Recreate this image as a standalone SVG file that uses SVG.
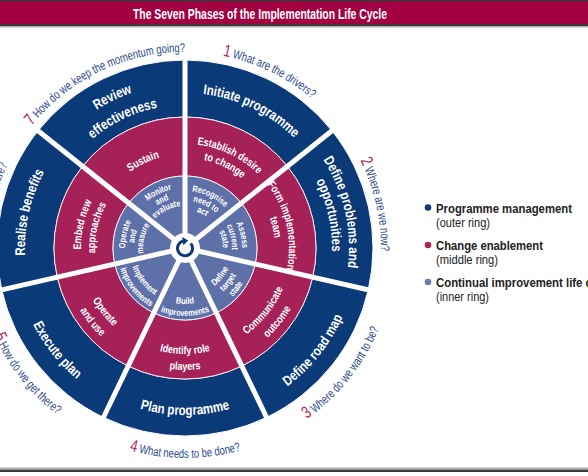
<svg xmlns="http://www.w3.org/2000/svg" width="588" height="476" viewBox="0 0 588 476">
<style>
.o{font-family:'Liberation Sans',Arial,sans-serif;font-weight:bold;font-size:14px;fill:#fff;text-anchor:middle}
.m{font-family:'Liberation Sans',Arial,sans-serif;font-weight:bold;font-size:11px;fill:#fff;text-anchor:middle}
.i{font-family:'Liberation Sans',Arial,sans-serif;font-weight:bold;font-size:9px;fill:#fff;text-anchor:middle}
.q{font-family:'Liberation Sans',Arial,sans-serif;font-size:12.5px;fill:#2c4a8e;text-anchor:middle}
.n{font-size:17px;fill:#b3245a}
.outer{fill:#0a3a78;stroke:#fff;stroke-width:1}
.mid{fill:#a52158;stroke:#f4e6ec;stroke-width:1}
.inn{fill:#5e70a8;stroke:#eef0f8;stroke-width:1}
.sep{stroke:#fff;stroke-width:5;stroke-linecap:butt}
.lg{font-family:'Liberation Sans',Arial,sans-serif;font-size:13px;fill:#222}
.lgb{font-family:'Liberation Sans',Arial,sans-serif;font-size:13.5px;font-weight:bold;fill:#222}
</style>
<defs>
<path id="a38" d="M147.58 241.40 A38 38 0 0 1 222.42 241.40"/>
<path id="a42" d="M143.64 240.71 A42 42 0 0 1 226.36 240.71"/>
<path id="a47" d="M138.71 239.84 A47 47 0 0 1 231.29 239.84"/>
<path id="a51" d="M134.78 239.15 A51 51 0 0 1 235.22 239.15"/>
<path id="a57" d="M128.87 238.10 A57 57 0 0 1 241.13 238.10"/>
<path id="a60" d="M125.91 237.58 A60 60 0 0 1 244.09 237.58"/>
<path id="a90" d="M96.37 232.38 A90 90 0 0 1 273.63 232.38"/>
<path id="a94" d="M92.43 231.68 A94 94 0 0 1 277.57 231.68"/>
<path id="a104" d="M82.58 229.95 A104 104 0 0 1 287.42 229.95"/>
<path id="a143" d="M44.17 223.18 A143 143 0 0 1 325.83 223.18"/>
<path id="a147" d="M40.23 222.48 A147 147 0 0 1 329.77 222.48"/>
<path id="a155" d="M32.36 221.09 A155 155 0 0 1 337.64 221.09"/>
<path id="a160" d="M27.43 220.22 A160 160 0 0 1 342.57 220.22"/>
<path id="a164" d="M23.49 219.53 A164 164 0 0 1 346.51 219.53"/>
<path id="a196" d="M-8.02 213.97 A196 196 0 0 1 378.02 213.97"/>
<path id="b48" d="M137.73 256.33 A48 48 0 0 0 232.27 256.33"/>
<path id="b56" d="M129.85 257.72 A56 56 0 0 0 240.15 257.72"/>
<path id="b58" d="M127.88 258.07 A58 58 0 0 0 242.12 258.07"/>
<path id="b68" d="M118.03 259.80 A68 68 0 0 0 251.97 259.80"/>
<path id="b106" d="M80.61 266.40 A106 106 0 0 0 289.39 266.40"/>
<path id="b122" d="M64.85 269.18 A122 122 0 0 0 305.15 269.18"/>
<path id="b167" d="M20.54 276.99 A167 167 0 0 0 349.46 276.99"/>
<path id="b170" d="M17.58 277.51 A170 170 0 0 0 352.42 277.51"/>
<path id="b172" d="M15.61 277.86 A172 172 0 0 0 354.39 277.86"/>
<path id="b210" d="M-21.81 284.46 A210 210 0 0 0 391.81 284.46"/>
</defs>

<rect width="588" height="476" fill="#fff"/>

<g id="title">
<rect x="0" y="0" width="588" height="26" fill="#a30041"/>
<rect x="0" y="0" width="588" height="1.5" fill="#3a3a3a"/>
<rect x="0" y="24" width="588" height="2.5" fill="#3a3a3a"/>
<rect x="0" y="26.5" width="588" height="1" fill="#bbb"/>
<text x="260" y="18.5" text-anchor="middle" font-family="'Liberation Sans',Arial,sans-serif" font-weight="bold" font-size="14" fill="#fff" textLength="254" lengthAdjust="spacingAndGlyphs">The Seven Phases of the Implementation Life Cycle</text>
</g>

<g id="outer-1-initiate-programme">
<path class="outer" d="M185 60 A188 188 0 0 1 331.98 130.78 L287.42 166.32 A131 131 0 0 0 185 117 Z"/>
<text class="o" transform="rotate(25.71 185 248)"><textPath href="#a155" startOffset="50%" textLength="103" lengthAdjust="spacingAndGlyphs">Initiate programme</textPath></text>
</g>
<g id="outer-2-define-problems">
<path class="outer" d="M331.98 130.78 A188 188 0 0 1 368.28 289.83 L312.71 277.15 A131 131 0 0 0 287.42 166.32 Z"/>
<text class="o" transform="rotate(77.14 185 248)"><textPath href="#a164" startOffset="50%" textLength="113" lengthAdjust="spacingAndGlyphs">Define problems and</textPath></text>
<text class="o" transform="rotate(77.14 185 248)"><textPath href="#a147" startOffset="50%" textLength="73" lengthAdjust="spacingAndGlyphs">opportunities</textPath></text>
</g>
<g id="outer-3-define-road-map">
<path class="outer" d="M368.28 289.83 A188 188 0 0 1 266.57 417.39 L241.84 366.03 A131 131 0 0 0 312.71 277.15 Z"/>
<text class="o" transform="rotate(-51.43 185 248)"><textPath href="#b172" startOffset="50%" textLength="90" lengthAdjust="spacingAndGlyphs">Define road map</textPath></text>
</g>
<g id="outer-4-plan-programme">
<path class="outer" d="M266.57 417.39 A188 188 0 0 1 103.43 417.39 L128.16 366.03 A131 131 0 0 0 241.84 366.03 Z"/>
<text class="o"><textPath href="#b167" startOffset="50%" textLength="91" lengthAdjust="spacingAndGlyphs">Plan programme</textPath></text>
</g>
<g id="outer-5-execute-plan">
<path class="outer" d="M103.43 417.39 A188 188 0 0 1 1.72 289.83 L57.29 277.15 A131 131 0 0 0 128.16 366.03 Z"/>
<text class="o" transform="rotate(51.43 185 248)"><textPath href="#b170" startOffset="50%" textLength="71" lengthAdjust="spacingAndGlyphs">Execute plan</textPath></text>
</g>
<g id="outer-6-realise-benefits">
<path class="outer" d="M1.72 289.83 A188 188 0 0 1 38.02 130.78 L82.58 166.32 A131 131 0 0 0 57.29 277.15 Z"/>
<text class="o" transform="rotate(-77.14 185 248)"><textPath href="#a160" startOffset="50%" textLength="87" lengthAdjust="spacingAndGlyphs">Realise benefits</textPath></text>
</g>
<g id="outer-7-review-effectiveness">
<path class="outer" d="M38.02 130.78 A188 188 0 0 1 185 60 L185 117 A131 131 0 0 0 82.58 166.32 Z"/>
<text class="o" transform="rotate(-25.71 185 248)"><textPath href="#a164" startOffset="50%" textLength="40" lengthAdjust="spacingAndGlyphs">Review</textPath></text>
<text class="o" transform="rotate(-25.71 185 248)"><textPath href="#a143" startOffset="50%" textLength="73" lengthAdjust="spacingAndGlyphs">effectiveness</textPath></text>
</g>

<g id="middle-1-establish-desire">
<path class="mid" d="M185 117 A131 131 0 0 1 287.42 166.32 L241.29 203.11 A72 72 0 0 0 185 176 Z"/>
<text class="m" transform="rotate(25.71 185 248)"><textPath href="#a104" startOffset="50%" textLength="69" lengthAdjust="spacingAndGlyphs">Establish desire</textPath></text>
<text class="m" transform="rotate(25.71 185 248)"><textPath href="#a90" startOffset="50%" textLength="43" lengthAdjust="spacingAndGlyphs">to change</textPath></text>
</g>
<g id="middle-2-form-team">
<path class="mid" d="M287.42 166.32 A131 131 0 0 1 312.71 277.15 L255.19 264.02 A72 72 0 0 0 241.29 203.11 Z"/>
<text class="m" transform="rotate(77.14 185 248)"><textPath href="#a104" startOffset="50%" textLength="90" lengthAdjust="spacingAndGlyphs">Form implementation</textPath></text>
<text class="m" transform="rotate(77.14 185 248)"><textPath href="#a90" startOffset="50%" textLength="21" lengthAdjust="spacingAndGlyphs">team</textPath></text>
</g>
<g id="middle-3-communicate-outcome">
<path class="mid" d="M312.71 277.15 A131 131 0 0 1 241.84 366.03 L216.24 312.87 A72 72 0 0 0 255.19 264.02 Z"/>
<text class="m" transform="rotate(-51.43 185 248)"><textPath href="#b106" startOffset="50%" textLength="60" lengthAdjust="spacingAndGlyphs">Communicate</textPath></text>
<text class="m" transform="rotate(-51.43 185 248)"><textPath href="#b122" startOffset="50%" textLength="38" lengthAdjust="spacingAndGlyphs">outcome</textPath></text>
</g>
<g id="middle-4-identify-role-players">
<path class="mid" d="M241.84 366.03 A131 131 0 0 1 128.16 366.03 L153.76 312.87 A72 72 0 0 0 216.24 312.87 Z"/>
<text class="m"><textPath href="#b106" startOffset="50%" textLength="51" lengthAdjust="spacingAndGlyphs">Identify role</textPath></text>
<text class="m"><textPath href="#b122" startOffset="50%" textLength="32" lengthAdjust="spacingAndGlyphs">players</textPath></text>
</g>
<g id="middle-5-operate-and-use">
<path class="mid" d="M128.16 366.03 A131 131 0 0 1 57.29 277.15 L114.81 264.02 A72 72 0 0 0 153.76 312.87 Z"/>
<text class="m" transform="rotate(51.43 185 248)"><textPath href="#b106" startOffset="50%" textLength="34" lengthAdjust="spacingAndGlyphs">Operate</textPath></text>
<text class="m" transform="rotate(51.43 185 248)"><textPath href="#b122" startOffset="50%" textLength="34" lengthAdjust="spacingAndGlyphs">and use</textPath></text>
</g>
<g id="middle-6-embed-new-approaches">
<path class="mid" d="M57.29 277.15 A131 131 0 0 1 82.58 166.32 L128.71 203.11 A72 72 0 0 0 114.81 264.02 Z"/>
<text class="m" transform="rotate(-77.14 185 248)"><textPath href="#a104" startOffset="50%" textLength="50" lengthAdjust="spacingAndGlyphs">Embed new</textPath></text>
<text class="m" transform="rotate(-77.14 185 248)"><textPath href="#a90" startOffset="50%" textLength="51" lengthAdjust="spacingAndGlyphs">approaches</textPath></text>
</g>
<g id="middle-7-sustain">
<path class="mid" d="M82.58 166.32 A131 131 0 0 1 185 117 L185 176 A72 72 0 0 0 128.71 203.11 Z"/>
<text class="m" transform="rotate(-25.71 185 248)"><textPath href="#a94" startOffset="50%" textLength="33" lengthAdjust="spacingAndGlyphs">Sustain</textPath></text>
</g>

<g id="inner-1-recognise">
<path class="inn" d="M185 248 L185 176 A72 72 0 0 1 241.29 203.11 Z"/>
<text class="i" transform="rotate(25.71 185 248)"><textPath href="#a57" startOffset="50%" textLength="37" lengthAdjust="spacingAndGlyphs">Recognise</textPath></text>
<text class="i" transform="rotate(25.71 185 248)"><textPath href="#a47" startOffset="50%" textLength="26" lengthAdjust="spacingAndGlyphs">need to</textPath></text>
<text class="i" transform="rotate(25.71 185 248)"><textPath href="#a38" startOffset="50%" textLength="11" lengthAdjust="spacingAndGlyphs">act</textPath></text>
</g>
<g id="inner-2-assess">
<path class="inn" d="M185 248 L241.29 203.11 A72 72 0 0 1 255.19 264.02 Z"/>
<text class="i" transform="rotate(77.14 185 248)"><textPath href="#a57" startOffset="50%" textLength="26" lengthAdjust="spacingAndGlyphs">Assess</textPath></text>
<text class="i" transform="rotate(77.14 185 248)"><textPath href="#a47" startOffset="50%" textLength="25" lengthAdjust="spacingAndGlyphs">current</textPath></text>
<text class="i" transform="rotate(77.14 185 248)"><textPath href="#a38" startOffset="50%" textLength="17" lengthAdjust="spacingAndGlyphs">state</textPath></text>
</g>
<g id="inner-3-define-target">
<path class="inn" d="M185 248 L255.19 264.02 A72 72 0 0 1 216.24 312.87 Z"/>
<text class="i" transform="rotate(-51.43 185 248)"><textPath href="#b48" startOffset="50%" textLength="23" lengthAdjust="spacingAndGlyphs">Define</textPath></text>
<text class="i" transform="rotate(-51.43 185 248)"><textPath href="#b58" startOffset="50%" textLength="21" lengthAdjust="spacingAndGlyphs">target</textPath></text>
<text class="i" transform="rotate(-51.43 185 248)"><textPath href="#b68" startOffset="50%" textLength="17" lengthAdjust="spacingAndGlyphs">state</textPath></text>
</g>
<g id="inner-4-build">
<path class="inn" d="M185 248 L216.24 312.87 A72 72 0 0 1 153.76 312.87 Z"/>
<text class="i"><textPath href="#b56" startOffset="50%" textLength="19" lengthAdjust="spacingAndGlyphs">Build</textPath></text>
<text class="i"><textPath href="#b68" startOffset="50%" textLength="50" lengthAdjust="spacingAndGlyphs">improvements</textPath></text>
</g>
<g id="inner-5-implement">
<path class="inn" d="M185 248 L153.76 312.87 A72 72 0 0 1 114.81 264.02 Z"/>
<text class="i" transform="rotate(51.43 185 248)"><textPath href="#b56" startOffset="50%" textLength="37" lengthAdjust="spacingAndGlyphs">Implement</textPath></text>
<text class="i" transform="rotate(51.43 185 248)"><textPath href="#b68" startOffset="50%" textLength="50" lengthAdjust="spacingAndGlyphs">improvements</textPath></text>
</g>
<g id="inner-6-operate-measure">
<path class="inn" d="M185 248 L114.81 264.02 A72 72 0 0 1 128.71 203.11 Z"/>
<text class="i" transform="rotate(-77.14 185 248)"><textPath href="#a60" startOffset="50%" textLength="28" lengthAdjust="spacingAndGlyphs">Operate</textPath></text>
<text class="i" transform="rotate(-77.14 185 248)"><textPath href="#a51" startOffset="50%" textLength="13" lengthAdjust="spacingAndGlyphs">and</textPath></text>
<text class="i" transform="rotate(-77.14 185 248)"><textPath href="#a42" startOffset="50%" textLength="30" lengthAdjust="spacingAndGlyphs">measure</textPath></text>
</g>
<g id="inner-7-monitor">
<path class="inn" d="M185 248 L128.71 203.11 A72 72 0 0 1 185 176 Z"/>
<text class="i" transform="rotate(-25.71 185 248)"><textPath href="#a60" startOffset="50%" textLength="27" lengthAdjust="spacingAndGlyphs">Monitor</textPath></text>
<text class="i" transform="rotate(-25.71 185 248)"><textPath href="#a51" startOffset="50%" textLength="13" lengthAdjust="spacingAndGlyphs">and</textPath></text>
<text class="i" transform="rotate(-25.71 185 248)"><textPath href="#a42" startOffset="50%" textLength="29" lengthAdjust="spacingAndGlyphs">evaluate</textPath></text>
</g>

<g id="connectors">
<line class="sep" x1="185" y1="248" x2="185" y2="56"/>
<line class="sep" x1="185" y1="248" x2="335.1" y2="128.3"/>
<line class="sep" x1="185" y1="248" x2="372.2" y2="290.7"/>
<line class="sep" x1="185" y1="248" x2="268.3" y2="421"/>
<line class="sep" x1="185" y1="248" x2="101.7" y2="421"/>
<line class="sep" x1="185" y1="248" x2="-2.2" y2="290.7"/>
<line class="sep" x1="185" y1="248" x2="34.9" y2="128.3"/>
</g>

<g id="hub">
<circle cx="185" cy="248" r="15" fill="#fff"/>
<path d="M190.75 243.4 A7.5 7.5 0 1 1 183.06 241" fill="none" stroke="#0a3a78" stroke-width="3"/>
<polygon points="188.2,240.6 182.2,237 183.4,245.2" fill="#0a3a78"/>
</g>

<g id="questions">
<text class="q" transform="rotate(25.71 185 248)"><textPath href="#a196" startOffset="50%" textLength="100" lengthAdjust="spacingAndGlyphs"><tspan class="n">1</tspan> What are the drivers?</textPath></text>
<text class="q" transform="rotate(77.14 185 248)"><textPath href="#a196" startOffset="50%" textLength="94" lengthAdjust="spacingAndGlyphs"><tspan class="n">2</tspan> Where are we now?</textPath></text>
<text class="q" transform="rotate(-51.43 185 248)"><textPath href="#b210" startOffset="50%" textLength="117" lengthAdjust="spacingAndGlyphs"><tspan class="n">3</tspan> Where do we want to be?</textPath></text>
<text class="q"><textPath href="#b210" startOffset="50%" textLength="113" lengthAdjust="spacingAndGlyphs"><tspan class="n">4</tspan> What needs to be done?</textPath></text>
<text class="q" transform="rotate(51.43 185 248)"><textPath href="#b210" startOffset="50%" textLength="102" lengthAdjust="spacingAndGlyphs"><tspan class="n">5</tspan> How do we get there?</textPath></text>
<text class="q" transform="rotate(-77.14 185 248)"><textPath href="#a196" startOffset="50%" textLength="84" lengthAdjust="spacingAndGlyphs"><tspan class="n">6</tspan> Did we get there?</textPath></text>
<text class="q" transform="rotate(-25.71 185 248)"><textPath href="#a196" startOffset="50%" textLength="176" lengthAdjust="spacingAndGlyphs"><tspan class="n">7</tspan> How do we keep the momentum going?</textPath></text>
</g>

<g id="legend">
<circle cx="428" cy="207.5" r="3.3" fill="#0a3a78"/>
<text x="436" y="212.5" class="lgb" textLength="136" lengthAdjust="spacingAndGlyphs">Programme management</text>
<text x="436" y="226.5" class="lg" textLength="54" lengthAdjust="spacingAndGlyphs">(outer ring)</text>
<circle cx="428" cy="245" r="3.3" fill="#b3245a"/>
<text x="436" y="249.5" class="lgb" textLength="107" lengthAdjust="spacingAndGlyphs">Change enablement</text>
<text x="436" y="263.5" class="lg" textLength="62" lengthAdjust="spacingAndGlyphs">(middle ring)</text>
<circle cx="428" cy="282" r="3.3" fill="#6a7cb4"/>
<text x="436" y="286.5" class="lgb" textLength="178" lengthAdjust="spacingAndGlyphs">Continual improvement life cycle</text>
<text x="436" y="300.5" class="lg" textLength="53" lengthAdjust="spacingAndGlyphs">(inner ring)</text>
</g>

<g id="footer">
<rect x="0" y="467.5" width="588" height="1.5" fill="#aaa"/>
<rect x="0" y="469.5" width="588" height="2.5" fill="#3a3a3a"/>
</g>
</svg>
